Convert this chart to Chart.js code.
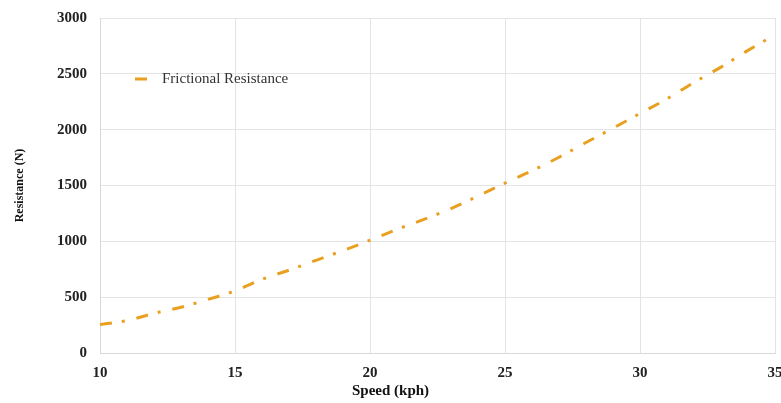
<!DOCTYPE html>
<html>
<head>
<meta charset="utf-8">
<script src="https://cdn.jsdelivr.net/npm/chart.js@4.4.1/dist/chart.umd.min.js"></script>
<style>
  html, body { margin: 0; padding: 0; background: #fff; }
  #wrap { width: 781px; height: 403px; }
</style>
</head>
<body>
<div id="wrap"><canvas id="chart" width="781" height="403"></canvas></div>
<script>
// values
const speeds = [10, 11, 12, 13, 14, 15, 16, 17, 18, 19, 20, 21, 22, 23, 24, 25, 26, 27, 28, 29, 30, 31, 32, 33, 34, 35];
const resistance = [255, 290, 355, 410, 480, 556, 660, 742, 830, 917, 1010, 1107, 1197, 1293, 1405, 1522, 1632, 1753, 1885, 2013, 2145, 2276, 2423, 2560, 2710, 2850];
const speedTicks = [10, 15, 20, 25, 30, 35];
const seriesLabel = 'Frictional Resistance';
const xTitle = 'Speed (kph)';

const lineColor = '#e9a020';
const serif = "'Liberation Serif', 'DejaVu Serif', serif";

// legend inside the plot (top left) and x title centred on the page
const extras = {
  id: 'extras',
  afterDraw(chart) {
    const ctx = chart.ctx;
    const area = chart.chartArea;
    const y = area.top + 61;
    ctx.save();
    ctx.strokeStyle = lineColor;
    ctx.lineWidth = 3;
    ctx.beginPath();
    ctx.moveTo(area.left + 35, y);
    ctx.lineTo(area.left + 47, y);
    ctx.stroke();
    ctx.fillStyle = '#333';
    ctx.font = '15px ' + serif;
    ctx.textBaseline = 'middle';
    ctx.fillText(chart.data.datasets[0].label, area.left + 62, y);

    ctx.fillStyle = '#111';
    ctx.font = 'bold 15px ' + serif;
    ctx.textAlign = 'center';
    ctx.fillText(xTitle, chart.width / 2, 391);
    ctx.restore();
  }
};

new Chart(document.getElementById('chart'), {
  type: 'line',
  data: {
    datasets: [{
      label: seriesLabel,
      data: speeds.map((s, i) => ({ x: s, y: resistance[i] })),
      borderColor: lineColor,
      borderWidth: 3,
      borderDash: [12, 10, 3, 12],
      pointRadius: 0,
      cubicInterpolationMode: 'monotone',
      fill: false
    }]
  },
  options: {
    responsive: false,
    animation: false,
    layout: { padding: { top: 18, right: 6, left: 0, bottom: 0 } },
    plugins: {
      legend: { display: false },
      tooltip: { enabled: false }
    },
    scales: {
      x: {
        type: 'linear',
        min: 10,
        max: 35,
        afterBuildTicks: (axis) => { axis.ticks = speedTicks.map(v => ({ value: v })); },
        afterFit: (axis) => { axis.height = 50; axis.paddingRight = 0; axis.paddingLeft = 0; },
        grid: { color: '#e4e4e4', drawTicks: false },
        border: { color: '#d8d8d8' },
        ticks: {
          color: '#222',
          padding: 11,
          maxRotation: 0,
          font: { family: serif, size: 15, weight: 'bold' }
        }
      },
      y: {
        min: 0,
        max: 3000,
        afterFit: (axis) => { axis.width = 100; axis.paddingTop = 0; axis.paddingBottom = 0; },
        grid: { color: '#e4e4e4', drawTicks: false },
        border: { color: '#d8d8d8' },
        ticks: {
          stepSize: 500,
          color: '#222',
          padding: 13,
          callback: (v) => String(v),
          font: { family: serif, size: 15, weight: 'bold' }
        },
        title: {
          display: true,
          text: 'Resistance (N)',
          color: '#111',
          padding: { top: 13, bottom: 0 },
          font: { family: serif, size: 12, weight: 'bold' }
        }
      }
    }
  },
  plugins: [extras]
});
</script>
</body>
</html>
